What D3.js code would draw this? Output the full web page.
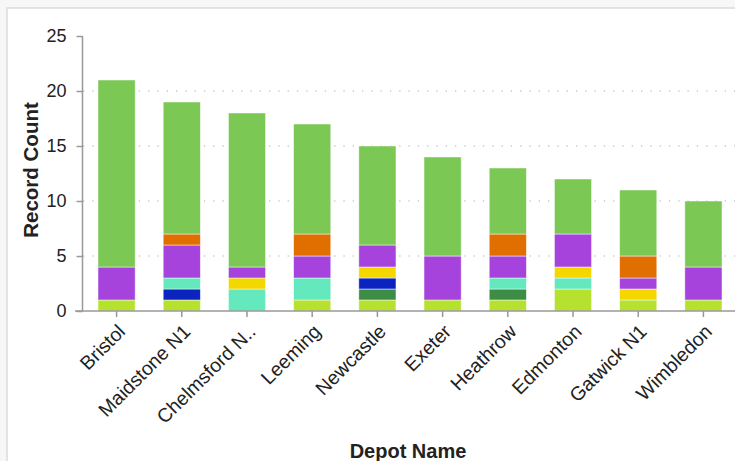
<!DOCTYPE html>
<html><head><meta charset="utf-8">
<script src="https://cdn.jsdelivr.net/npm/d3@7"></script>
<style>
html,body{margin:0;padding:0;background:#f7f7f7;}
svg{display:block;}
text{font-family:"Liberation Sans",Arial,Helvetica,sans-serif;}
</style></head>
<body>
<svg id="c" width="735" height="461"></svg>
<script>
const depots = ["Bristol","Maidstone N1","Chelmsford N..","Leeming","Newcastle","Exeter","Heathrow","Edmonton","Gatwick N1","Wimbledon"];
const seriesNames = ["S1","S2","S3","S4","S5","S6","S7","S8"];
const seriesColors = ["#b6e22f","#3d8d46","#0b24c0","#64e8be","#f5d700","#a543dc","#e06f00","#7bc855"];
// values per series, aligned with depots (bottom to top)
const s1 = [1,1,0,1,1,1,1,2,1,1];
const s2 = [0,0,0,0,1,0,1,0,0,0];
const s3 = [0,1,0,0,1,0,0,0,0,0];
const s4 = [0,1,2,2,0,0,1,1,0,0];
const s5 = [0,0,1,0,1,0,0,1,1,0];
const s6 = [3,3,1,2,2,4,2,3,1,3];
const s7 = [0,1,0,2,0,0,2,0,2,0];
const s8 = [17,12,14,10,9,9,6,5,6,6];
const seriesValues = [s1,s2,s3,s4,s5,s6,s7,s8];
const yTicks = [0,5,10,15,20,25];
const gridTicks = [5,10,15,20];

const svg = d3.select("#c");
svg.append("rect").attr("x",7).attr("y",8).attr("width",740).attr("height",470)
  .attr("fill","#fff").attr("stroke","#dcdcdc").attr("stroke-width",1.5);

const x = d3.scaleBand().domain(depots).range([83,737]).paddingInner(0.43).paddingOuter(0.23);
const y = d3.scaleLinear().domain([0,25]).range([311,36]);

svg.append("g").selectAll("line").data(gridTicks).join("line")
  .attr("x1",83).attr("x2",735).attr("y1",d=>y(d)).attr("y2",d=>y(d))
  .attr("stroke","#c8c8c8").attr("stroke-width",1.3).attr("stroke-dasharray","1.3,8");

const rows = depots.map((d,i)=>{const o={depot:d}; seriesNames.forEach((s,j)=>o[s]=seriesValues[j][i]); return o;});
const stack = d3.stack().keys(seriesNames)(rows);

svg.append("g").selectAll("g").data(stack).join("g")
  .attr("fill",(d,i)=>seriesColors[i])
  .selectAll("rect").data(d=>d.filter(p=>p[1]>p[0])).join("rect")
  .attr("x",d=>x(d.data.depot)).attr("width",x.bandwidth())
  .attr("y",d=>y(d[1])).attr("height",d=>y(d[0])-y(d[1]))
  .attr("stroke","rgba(255,255,255,0.6)").attr("stroke-width",0.8);

const ya = svg.append("g").attr("transform","translate(82.5,0)")
  .call(d3.axisLeft(y).tickValues(yTicks).tickSize(6).tickPadding(10));
ya.selectAll("path,line").attr("stroke","#999").attr("stroke-width",1.5);
ya.select(".domain").attr("d","M0,36V311");
ya.selectAll("text").attr("font-size",18).attr("fill","#222").attr("font-family","Liberation Sans,Arial,sans-serif");

const xa = svg.append("g").attr("transform","translate(0,311)")
  .call(d3.axisBottom(x).tickSize(6).tickSizeOuter(0));
xa.selectAll("path,line").attr("stroke","#999").attr("stroke-width",1.5);
xa.select(".domain").attr("d","M75,0H735");
xa.selectAll("text").attr("font-size",19.5).attr("fill","#222")
  .attr("font-family","Liberation Sans,Arial,sans-serif")
  .attr("text-anchor","end").attr("dy","0.35em")
  .attr("transform","translate(5,17) rotate(-45)").attr("y",0).attr("x",0);

svg.append("text").attr("x",408).attr("y",458).attr("text-anchor","middle")
  .attr("font-size",20).attr("font-weight","bold").attr("fill","#222").text("Depot Name");
svg.append("text").attr("transform","translate(38,170) rotate(-90)").attr("text-anchor","middle")
  .attr("font-size",20.5).attr("font-weight","bold").attr("fill","#222").text("Record Count");
</script>
</body></html>
